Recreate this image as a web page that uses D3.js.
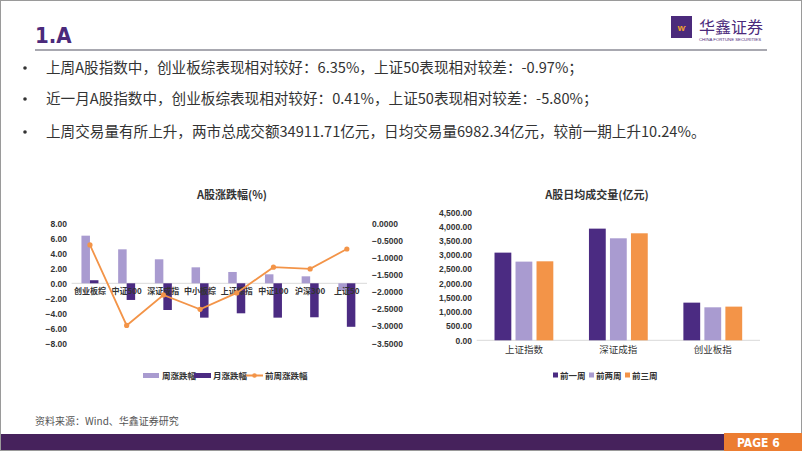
<!DOCTYPE html>
<html>
<head>
<meta charset="utf-8">
<script src="https://cdn.jsdelivr.net/npm/d3@7"></script>
<style>
  html, body { margin: 0; padding: 0; background: #fff; }
  svg { display: block; font-family: "Noto Sans CJK SC", "Noto Sans", sans-serif; }
</style>
</head>
<body>
<svg id="page" width="802" height="451"></svg>
<script>
// data
const bullets = [
    "上周A股指数中，创业板综表现相对较好：6.35%，上证50表现相对较差：-0.97%；",
    "近一月A股指数中，创业板综表现相对较好：0.41%，上证50表现相对较差：-5.80%；",
    "上周交易量有所上升，两市总成交额34911.71亿元，日均交易量6982.34亿元，较前一期上升10.24%。"
];

const indexCats = ["创业板综", "中证500", "深证成指", "中小板综", "上证综指", "中证100", "沪深300", "上证50"];
const weekChange = [6.35, 4.53, 3.2, 2.13, 1.51, 1.2, 0.93, -0.97];
const monthChange = [0.41, -2.22, -3.56, -4.58, -4.0, -4.58, -4.53, -5.80];
const prevWeekChange = [-0.63, -2.98, -2.09, -2.51, -2.03, -1.28, -1.33, -0.75];
const leftTicks = [-8, -6, -4, -2, 0, 2, 4, 6, 8];
const rightTicks = [-3.5, -3, -2.5, -2, -1.5, -1, -0.5, 0];

const volCats = ["上证指数", "深证成指", "创业板指"];
const volSeries = ["前一周", "前两周", "前三周"];
const volWeek1 = [3082, 3926, 1324];
const volWeek2 = [2766, 3586, 1160];
const volWeek3 = [2777, 3762, 1184];
const volTicks = [0, 500, 1000, 1500, 2000, 2500, 3000, 3500, 4000, 4500];

const purple = "#4b2b82";
const lilac = "#a99bd0";
const orange = "#f39448";

const svg = d3.select("#page");

// page frame
svg.append("rect").attr("x", 0.5).attr("y", 0.5).attr("width", 801).attr("height", 450)
    .attr("fill", "none").attr("stroke", "#9a9a9a");

// header
svg.append("text").attr("x", 35).attr("y", 43)
    .attr("font-family", "'DejaVu Sans Condensed', sans-serif")
    .attr("font-weight", "bold").attr("font-size", 22).attr("fill", "#4b2a7b")
    .text("1.A");
svg.append("line").attr("x1", 35).attr("x2", 767).attr("y1", 50).attr("y2", 50)
    .attr("stroke", "#a8a8b0").attr("stroke-width", 2);

// logo
svg.append("rect").attr("x", 671).attr("y", 16).attr("width", 21).attr("height", 22).attr("fill", "#4b2a7b");
svg.append("text").attr("x", 681.5).attr("y", 31).attr("text-anchor", "middle")
    .attr("font-size", 9).attr("font-weight", "bold").attr("fill", "#f0a030").text("ⱳ");
svg.append("text").attr("x", 699).attr("y", 33).attr("font-size", 16).attr("fill", "#4b2a7b").text("华鑫证券");
svg.append("text").attr("x", 699).attr("y", 41).attr("font-size", 4.3).attr("fill", "#4b2a7b")
    .attr("font-family", "'Liberation Sans', sans-serif").text("CHINA FORTUNE SECURITIES");

// bullets
const bulletY = [73, 104, 137];
bullets.forEach((t, i) => {
    svg.append("circle").attr("cx", 25).attr("cy", bulletY[i] - 5).attr("r", 1.8).attr("fill", "#333");
    svg.append("text").attr("x", 46).attr("y", bulletY[i])
        .attr("font-size", 14.6).attr("fill", "#333").text(t);
});

// ---------- left chart ----------
svg.append("text").attr("x", 232).attr("y", 199).attr("text-anchor", "middle")
    .attr("font-size", 11).attr("font-weight", "bold").attr("fill", "#333").text("A股涨跌幅(%)");

const x = d3.scaleBand().domain(indexCats).range([71.6, 365.2]);
const xs = d3.scaleBand().domain(["w", "m"]).range([x.bandwidth() / 2 - 8.5, x.bandwidth() / 2 + 8.5]);
const yL = d3.scaleLinear().domain([-8, 8]).range([343.3, 223.3]);
const yR = d3.scaleLinear().domain([-3.5, 0]).range([343.3, 223.3]);

const axisStyle = g => {
    g.select(".domain").remove();
    g.selectAll(".tick line").remove();
    g.selectAll("text").attr("font-size", 8.5).attr("font-weight", "bold").attr("fill", "#333");
};

svg.append("g").attr("transform", "translate(70,0)")
    .call(d3.axisLeft(yL).tickValues(leftTicks).tickFormat(d3.format(".2f")).tickSize(0).tickPadding(3))
    .call(axisStyle);
svg.append("g").attr("transform", "translate(370,0)")
    .call(d3.axisRight(yR).tickValues(rightTicks).tickFormat(d3.format(".4f")).tickSize(0).tickPadding(2))
    .call(axisStyle);

svg.append("line").attr("x1", 71.6).attr("x2", 367).attr("y1", yL(0)).attr("y2", yL(0))
    .attr("stroke", "#d9d9d9");

svg.append("g").selectAll("rect").data(weekChange).join("rect")
    .attr("x", (d, i) => x(indexCats[i]) + xs("w"))
    .attr("width", xs.bandwidth())
    .attr("y", d => yL(Math.max(0, d)))
    .attr("height", d => Math.abs(yL(d) - yL(0)))
    .attr("fill", lilac);
svg.append("g").selectAll("rect").data(monthChange).join("rect")
    .attr("x", (d, i) => x(indexCats[i]) + xs("m"))
    .attr("width", xs.bandwidth())
    .attr("y", d => yL(Math.max(0, d)))
    .attr("height", d => Math.abs(yL(d) - yL(0)))
    .attr("fill", purple);

svg.append("g").selectAll("text").data(indexCats).join("text")
    .attr("x", d => x(d) + x.bandwidth() / 2)
    .attr("y", yL(0) + 11)
    .attr("text-anchor", "middle")
    .attr("font-size", 8).attr("font-weight", "bold").attr("fill", "#333")
    .text(d => d);

const lineGen = d3.line()
    .x((d, i) => x(indexCats[i]) + x.bandwidth() / 2)
    .y(d => yR(d));
svg.append("path").datum(prevWeekChange).attr("d", lineGen)
    .attr("fill", "none").attr("stroke", orange).attr("stroke-width", 1.8);
svg.append("g").selectAll("circle").data(prevWeekChange).join("circle")
    .attr("cx", (d, i) => x(indexCats[i]) + x.bandwidth() / 2)
    .attr("cy", d => yR(d))
    .attr("r", 2.6).attr("fill", orange);

// left legend
const legL = svg.append("g").attr("font-size", 8.5).attr("font-weight", "bold").attr("fill", "#333");
legL.append("rect").attr("x", 143).attr("y", 373).attr("width", 16).attr("height", 5).attr("fill", lilac);
legL.append("text").attr("x", 162).attr("y", 379).text("周涨跌幅");
legL.append("rect").attr("x", 194).attr("y", 373).attr("width", 17).attr("height", 5).attr("fill", purple);
legL.append("text").attr("x", 213).attr("y", 379).text("月涨跌幅");
legL.append("line").attr("x1", 246).attr("x2", 263).attr("y1", 375.5).attr("y2", 375.5)
    .attr("stroke", orange).attr("stroke-width", 2);
legL.append("circle").attr("cx", 254.5).attr("cy", 375.5).attr("r", 2.3).attr("fill", orange);
legL.append("text").attr("x", 265).attr("y", 379).text("前周涨跌幅");

// ---------- right chart ----------
svg.append("text").attr("x", 597).attr("y", 199).attr("text-anchor", "middle")
    .attr("font-size", 11).attr("font-weight", "bold").attr("fill", "#333").text("A股日均成交量(亿元)");

const xv = d3.scaleBand().domain(volCats).range([476.7, 760]);
const xv1 = d3.scaleBand().domain(volSeries)
    .range([xv.bandwidth() / 2 - 29.4, xv.bandwidth() / 2 + 29.4]).paddingInner(0.2);
const yv = d3.scaleLinear().domain([0, 4500]).range([340.3, 212.3]);

svg.append("g").attr("transform", "translate(474,0)")
    .call(d3.axisLeft(yv).tickValues(volTicks).tickFormat(d3.format(",.2f")).tickSize(0).tickPadding(2))
    .call(axisStyle);

svg.append("line").attr("x1", 476.7).attr("x2", 760).attr("y1", yv(0)).attr("y2", yv(0))
    .attr("stroke", "#d9d9d9");

const volData = [volWeek1, volWeek2, volWeek3];
const volColors = [purple, lilac, orange];
volData.forEach((vals, s) => {
    svg.append("g").selectAll("rect").data(vals).join("rect")
        .attr("x", (d, i) => xv(volCats[i]) + xv1(volSeries[s]))
        .attr("width", xv1.bandwidth())
        .attr("y", d => yv(d))
        .attr("height", d => yv(0) - yv(d))
        .attr("fill", volColors[s]);
});

svg.append("g").selectAll("text").data(volCats).join("text")
    .attr("x", d => xv(d) + xv.bandwidth() / 2)
    .attr("y", 353)
    .attr("text-anchor", "middle")
    .attr("font-size", 9.5).attr("fill", "#333")
    .text(d => d);

const legR = svg.append("g").attr("font-size", 8.5).attr("font-weight", "bold").attr("fill", "#333");
const legRx = [553, 589, 625];
volSeries.forEach((s, i) => {
    legR.append("rect").attr("x", legRx[i]).attr("y", 372.5).attr("width", 5).attr("height", 5).attr("fill", volColors[i]);
    legR.append("text").attr("x", legRx[i] + 7).attr("y", 378.5).text(s);
});

// footer
svg.append("text").attr("x", 35).attr("y", 425).attr("font-size", 10).attr("fill", "#555")
    .text("资料来源：Wind、华鑫证券研究");
svg.append("rect").attr("x", 1).attr("y", 434).attr("width", 800).attr("height", 16).attr("fill", "#46225c");
svg.append("rect").attr("x", 724).attr("y", 433).attr("width", 78).attr("height", 18).attr("fill", "#ec7d31");
svg.append("text").attr("x", 737).attr("y", 447)
    .attr("font-family", "'DejaVu Sans Condensed', sans-serif")
    .attr("font-size", 12).attr("font-weight", "bold").attr("fill", "#fff").text("PAGE 6");
</script>
</body>
</html>
